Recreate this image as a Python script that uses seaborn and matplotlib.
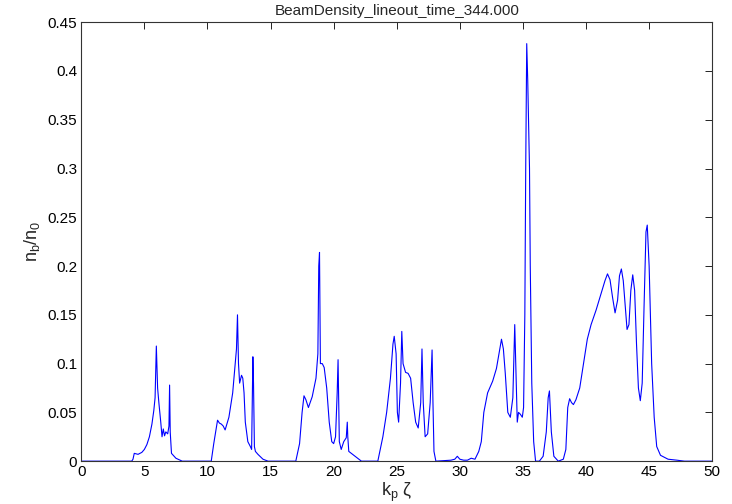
import matplotlib
matplotlib.use("Agg")
import matplotlib.pyplot as plt
import seaborn as sns
import numpy as np

sns.set_style("white")
plt.rcParams['font.family'] = ['Liberation Sans', 'DejaVu Sans']
plt.rcParams['mathtext.fontset'] = 'custom'
plt.rcParams['mathtext.rm'] = 'Liberation Sans'
plt.rcParams['mathtext.it'] = 'Liberation Sans'

title = "BeamDensity_lineout_time_344.000"
xticks = [0, 5, 10, 15, 20, 25, 30, 35, 40, 45, 50]
yticks = [0, 0.05, 0.1, 0.15, 0.2, 0.25, 0.3, 0.35, 0.4, 0.45]
ytick_labels = ["0", "0.05", "0.1", "0.15", "0.2", "0.25", "0.3", "0.35", "0.4", "0.45"]

kp_zeta = [0.0, 4.0, 4.1, 4.2, 4.5, 4.8, 5.0, 5.2, 5.4, 5.6, 5.75, 5.85, 5.95, 6.05, 6.15, 6.3, 6.4,
           6.5, 6.6, 6.7, 6.85, 6.95, 7.0, 7.05, 7.15, 7.5, 8.0,
           10.3, 10.5, 10.8, 10.95, 11.1, 11.25, 11.4, 11.7, 12.0, 12.2, 12.3, 12.38, 12.46, 12.55, 12.7,
           12.8, 12.9, 13.0, 13.2, 13.4, 13.5, 13.6, 13.65, 13.72, 13.8, 14.0, 14.4, 14.8,
           17.0, 17.3, 17.5, 17.65, 17.8, 18.0, 18.3, 18.6, 18.75, 18.82, 18.88, 18.95, 19.1, 19.25,
           19.45, 19.65, 19.85, 20.0, 20.15, 20.28, 20.35, 20.45, 20.6, 20.8, 21.0, 21.08, 21.12, 21.2,
           21.5, 22.0, 22.2,
           23.5, 23.9, 24.2, 24.5, 24.7, 24.8, 24.95, 25.05, 25.15, 25.3, 25.4, 25.5, 25.7, 25.9, 26.1,
           26.3, 26.5, 26.7, 26.9, 27.0, 27.1, 27.25, 27.45, 27.65, 27.8, 27.87, 27.95, 28.1,
           29.3, 29.6, 29.8, 30.0, 30.3, 30.6, 30.9, 31.2, 31.5, 31.7, 31.9, 32.2, 32.6, 32.9, 33.1,
           33.3, 33.45, 33.6, 33.8, 34.0, 34.2, 34.35, 34.45, 34.55, 34.65, 34.8, 34.95, 35.05,
           35.15, 35.22, 35.3, 35.38, 35.45, 35.52, 35.58, 35.7, 35.85, 36.0, 36.3, 36.6, 36.85,
           37.0, 37.1, 37.25, 37.45, 37.8, 38.2, 38.4, 38.55, 38.7, 38.85, 39.0, 39.2, 39.5, 39.8,
           40.1, 40.4, 40.8, 41.2, 41.5, 41.7, 41.9, 42.1, 42.3, 42.5, 42.65, 42.8, 42.95, 43.1, 43.25,
           43.4, 43.55, 43.7, 43.85, 44.0, 44.15, 44.3, 44.45, 44.6, 44.75, 44.85, 45.0, 45.2, 45.4,
           45.6, 45.9, 46.5, 47.2, 47.8, 50.0]
density = [0.0, 0.0, 0.002, 0.008, 0.007, 0.009, 0.012, 0.017, 0.025, 0.038, 0.052, 0.065, 0.118, 0.075, 0.06,
           0.04, 0.025, 0.033, 0.026, 0.03, 0.028, 0.036, 0.078, 0.03, 0.008, 0.003, 0.0,
           0.0, 0.018, 0.042, 0.039, 0.038, 0.036, 0.032, 0.045, 0.07, 0.1, 0.115, 0.15, 0.1, 0.08, 0.088,
           0.085, 0.07, 0.04, 0.02, 0.015, 0.012, 0.107, 0.08, 0.015, 0.01, 0.007, 0.002, 0.0,
           0.0, 0.018, 0.05, 0.067, 0.063, 0.055, 0.066, 0.085, 0.11, 0.2, 0.214, 0.1, 0.1, 0.096,
           0.075, 0.04, 0.02, 0.018, 0.025, 0.07, 0.104, 0.02, 0.012, 0.02, 0.024, 0.04, 0.025, 0.01,
           0.007, 0.002, 0.0,
           0.0, 0.025, 0.05, 0.085, 0.12, 0.128, 0.11, 0.05, 0.04, 0.08, 0.133, 0.1, 0.091, 0.09, 0.085,
           0.06, 0.04, 0.034, 0.06, 0.115, 0.06, 0.025, 0.028, 0.06, 0.114, 0.06, 0.01, 0.0,
           0.001, 0.002, 0.005, 0.002, 0.001, 0.001, 0.003, 0.002, 0.01, 0.02, 0.05, 0.07, 0.082, 0.095, 0.11,
           0.125, 0.115, 0.09, 0.05, 0.045, 0.065, 0.14, 0.09, 0.04, 0.05, 0.048, 0.045, 0.055,
           0.15, 0.3, 0.428, 0.39, 0.345, 0.3, 0.2, 0.08, 0.02, 0.0, 0.0, 0.005, 0.03,
           0.065, 0.072, 0.03, 0.005, 0.0, 0.002, 0.012, 0.055, 0.064, 0.06, 0.058, 0.063, 0.075, 0.1,
           0.125, 0.14, 0.155, 0.172, 0.185, 0.192, 0.186, 0.168, 0.152, 0.165, 0.19, 0.197, 0.185, 0.16,
           0.135, 0.14, 0.175, 0.191, 0.175, 0.12, 0.075, 0.062, 0.08, 0.16, 0.235, 0.242, 0.2, 0.1,
           0.045, 0.015, 0.006, 0.002, 0.001, 0.0, 0.0]

fig = plt.figure(figsize=(7.32, 5.04), dpi=100)
ax = fig.add_axes([0.111, 0.085, 0.862, 0.871])

sns.lineplot(x=kp_zeta, y=density, ax=ax, color=(0, 0, 1), linewidth=0.8,
             estimator=None, sort=False)

ax.set_xlim(0, 50)
ax.set_ylim(0, 0.45)
ax.set_xticks(xticks)
ax.set_xticklabels([str(t) for t in xticks])
ax.set_yticks(yticks)
ax.set_yticklabels(ytick_labels)
ax.tick_params(direction='in', top=True, right=True, length=5, width=0.6,
               labelsize=11, pad=3, colors='black')
for s in ax.spines.values():
    s.set_visible(True)
    s.set_color('#333333')
    s.set_linewidth(0.8)

ax.set_title(title, fontsize=11, pad=5)
ax.set_xlabel(r'$\mathregular{k_p}$ ζ', fontsize=13, labelpad=1)
ax.set_ylabel(r'$\mathregular{n_b/n_0}$', fontsize=13, labelpad=4)

fig.savefig("out.png", dpi=100, facecolor='white')
